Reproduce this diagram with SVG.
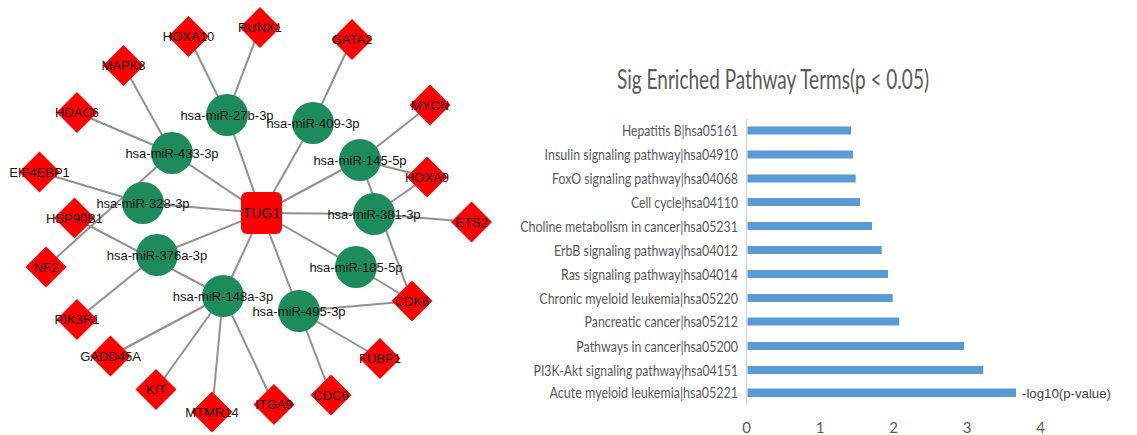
<svg xmlns="http://www.w3.org/2000/svg" xmlns:xlink="http://www.w3.org/1999/xlink" width="1137" height="435" viewBox="0 0 1137 435">
<style>
.e{stroke:#909090;stroke-width:2;fill:none}
.mi{fill:#1d8c5d}
.tg{fill:#ff0000}
.nl{font-family:"Liberation Sans",Arial,sans-serif;font-size:13px;fill:#141414;text-anchor:middle}
.cat{font-family:Lato,"Open Sans",sans-serif;font-size:16px;fill:#595959}
.tick{font-family:Lato,"Open Sans",sans-serif;font-size:15px;fill:#595959;text-anchor:middle}
.bar{fill:#5b9bd5}
</style>
<defs>
<polygon id="dia" points="0,-20.5 20.5,0 0,20.5 -20.5,0"/>
</defs>
<rect width="1137" height="435" fill="#ffffff"/>
<g id="connectors">
<line class="e" x1="261.5" y1="213" x2="227" y2="115"/>
<line class="e" x1="261.5" y1="213" x2="313" y2="123"/>
<line class="e" x1="261.5" y1="213" x2="172" y2="153"/>
<line class="e" x1="261.5" y1="213" x2="360" y2="160"/>
<line class="e" x1="261.5" y1="213" x2="143" y2="203"/>
<line class="e" x1="261.5" y1="213" x2="374" y2="214"/>
<line class="e" x1="261.5" y1="213" x2="157" y2="255"/>
<line class="e" x1="261.5" y1="213" x2="356" y2="267"/>
<line class="e" x1="261.5" y1="213" x2="223" y2="296"/>
<line class="e" x1="261.5" y1="213" x2="299" y2="311"/>
<line class="e" x1="227" y1="115" x2="188.5" y2="36.5"/>
<line class="e" x1="227" y1="115" x2="260" y2="27.5"/>
<line class="e" x1="313" y1="123" x2="352" y2="39.5"/>
<line class="e" x1="172" y1="153" x2="123.5" y2="65.5"/>
<line class="e" x1="172" y1="153" x2="77" y2="112.5"/>
<line class="e" x1="172" y1="153" x2="46" y2="267"/>
<line class="e" x1="143" y1="203" x2="39.5" y2="172"/>
<line class="e" x1="74.5" y1="218" x2="223" y2="296"/>
<line class="e" x1="157" y1="255" x2="77" y2="319.5"/>
<line class="e" x1="223" y1="296" x2="110.5" y2="356"/>
<line class="e" x1="223" y1="296" x2="156" y2="389.5"/>
<line class="e" x1="223" y1="296" x2="212" y2="412"/>
<line class="e" x1="223" y1="296" x2="274" y2="404.5"/>
<line class="e" x1="299" y1="311" x2="412" y2="301"/>
<line class="e" x1="299" y1="311" x2="380" y2="358.5"/>
<line class="e" x1="299" y1="311" x2="331" y2="395"/>
<line class="e" x1="356" y1="267" x2="412" y2="301"/>
<line class="e" x1="374" y1="214" x2="471.5" y2="222"/>
<line class="e" x1="374" y1="214" x2="427" y2="177"/>
<line class="e" x1="360" y1="160" x2="430" y2="105"/>
<line class="e" x1="360" y1="160" x2="427" y2="177"/>
<line class="e" x1="360" y1="160" x2="412" y2="301"/>
</g>
<g id="n-HOXA10"><use href="#dia" class="tg" x="188.5" y="36.5"/><text class="nl" x="188.5" y="41">HOXA10</text></g>
<g id="n-RUNX1"><use href="#dia" class="tg" x="260" y="27.5"/><text class="nl" x="260" y="32">RUNX1</text></g>
<g id="n-GATA2"><use href="#dia" class="tg" x="352" y="39.5"/><text class="nl" x="352" y="44">GATA2</text></g>
<g id="n-MYCN"><use href="#dia" class="tg" x="430" y="105"/><text class="nl" x="430" y="109.5">MYCN</text></g>
<g id="n-HOXA9"><use href="#dia" class="tg" x="427" y="177"/><text class="nl" x="427" y="181.5">HOXA9</text></g>
<g id="n-ETS2"><use href="#dia" class="tg" x="471.5" y="222"/><text class="nl" x="471.5" y="226.5">ETS2</text></g>
<g id="n-CDK6"><use href="#dia" class="tg" x="412" y="301"/><text class="nl" x="412" y="305.5">CDK6</text></g>
<g id="n-FUBP1"><use href="#dia" class="tg" x="380" y="358.5"/><text class="nl" x="380" y="363">FUBP1</text></g>
<g id="n-CDC6"><use href="#dia" class="tg" x="331" y="395"/><text class="nl" x="331" y="399.5">CDC6</text></g>
<g id="n-ITGA9"><use href="#dia" class="tg" x="274" y="404.5"/><text class="nl" x="274" y="409">ITGA9</text></g>
<g id="n-MTMR14"><use href="#dia" class="tg" x="212" y="412"/><text class="nl" x="212" y="416.5">MTMR14</text></g>
<g id="n-KIT"><use href="#dia" class="tg" x="156" y="389.5"/><text class="nl" x="156" y="394">KIT</text></g>
<g id="n-GADD45A"><use href="#dia" class="tg" x="110.5" y="356"/><text class="nl" x="110.5" y="360.5">GADD45A</text></g>
<g id="n-PIK3R1"><use href="#dia" class="tg" x="77" y="319.5"/><text class="nl" x="77" y="324">PIK3R1</text></g>
<g id="n-NF2"><use href="#dia" class="tg" x="46" y="267"/><text class="nl" x="46" y="271.5">NF2</text></g>
<g id="n-HSP90B1"><use href="#dia" class="tg" x="74.5" y="218"/><text class="nl" x="74.5" y="222.5">HSP90B1</text></g>
<g id="n-EIF4EBP1"><use href="#dia" class="tg" x="39.5" y="172"/><text class="nl" x="39.5" y="176.5">EIF4EBP1</text></g>
<g id="n-HDAC6"><use href="#dia" class="tg" x="77" y="112.5"/><text class="nl" x="77" y="117">HDAC6</text></g>
<g id="n-MAPK8"><use href="#dia" class="tg" x="123.5" y="65.5"/><text class="nl" x="123.5" y="70">MAPK8</text></g>
<g id="n-miR-27b-3p"><circle class="mi" cx="227" cy="115" r="21"/><text class="nl" x="227" y="119.5">hsa-miR-27b-3p</text></g>
<g id="n-miR-409-3p"><circle class="mi" cx="313" cy="123" r="21"/><text class="nl" x="313" y="127.5">hsa-miR-409-3p</text></g>
<g id="n-miR-433-3p"><circle class="mi" cx="172" cy="153" r="21"/><text class="nl" x="172" y="157.5">hsa-miR-433-3p</text></g>
<g id="n-miR-145-5p"><circle class="mi" cx="360" cy="160" r="21"/><text class="nl" x="360" y="164.5">hsa-miR-145-5p</text></g>
<g id="n-miR-328-3p"><circle class="mi" cx="143" cy="203" r="21"/><text class="nl" x="143" y="207.5">hsa-miR-328-3p</text></g>
<g id="n-miR-381-3p"><circle class="mi" cx="374" cy="214" r="21"/><text class="nl" x="374" y="218.5">hsa-miR-381-3p</text></g>
<g id="n-miR-376a-3p"><circle class="mi" cx="157" cy="255" r="21"/><text class="nl" x="157" y="259.5">hsa-miR-376a-3p</text></g>
<g id="n-miR-185-5p"><circle class="mi" cx="356" cy="267" r="21"/><text class="nl" x="356" y="271.5">hsa-miR-185-5p</text></g>
<g id="n-miR-148a-3p"><circle class="mi" cx="223" cy="296" r="21"/><text class="nl" x="223" y="300.5">hsa-miR-148a-3p</text></g>
<g id="n-miR-495-3p"><circle class="mi" cx="299" cy="311" r="21"/><text class="nl" x="299" y="315.5">hsa-miR-495-3p</text></g>
<g id="n-TUG1"><rect class="tg" x="241" y="192" width="41" height="42" rx="6"/><text class="nl" x="261.5" y="218" style="font-size:14px">TUG1</text></g>
<g id="chart">
<text x="617" y="88.5" textLength="312" lengthAdjust="spacingAndGlyphs" style="font-family:Lato,'Open Sans',sans-serif;font-size:27px;fill:#595959">Sig Enriched Pathway Terms(p &lt; 0.05)</text>
<line x1="746.5" y1="119" x2="746.5" y2="404" stroke="#d9d9d9" stroke-width="1.5"/>
<rect class="bar" x="747.5" y="126.5" width="103.5" height="8"/>
<rect class="bar" x="747.5" y="150.5" width="105.5" height="8"/>
<rect class="bar" x="747.5" y="174.5" width="108.2" height="8"/>
<rect class="bar" x="747.5" y="198" width="112.5" height="8"/>
<rect class="bar" x="747.5" y="222" width="124.5" height="8"/>
<rect class="bar" x="747.5" y="246" width="134.2" height="8"/>
<rect class="bar" x="747.5" y="270" width="140.5" height="8"/>
<rect class="bar" x="747.5" y="294" width="145.2" height="8"/>
<rect class="bar" x="747.5" y="317.5" width="151.8" height="8"/>
<rect class="bar" x="747.5" y="342" width="216.5" height="8"/>
<rect class="bar" x="747.5" y="366" width="235.8" height="8"/>
<rect class="bar" x="747.5" y="388.5" width="268.5" height="8.5"/>
<text class="cat" x="622" y="136" textLength="116" lengthAdjust="spacingAndGlyphs">Hepatitis B|hsa05161</text>
<text class="cat" x="544.6" y="160" textLength="193.4" lengthAdjust="spacingAndGlyphs">Insulin signaling pathway|hsa04910</text>
<text class="cat" x="552" y="184" textLength="186" lengthAdjust="spacingAndGlyphs">FoxO signaling pathway|hsa04068</text>
<text class="cat" x="631" y="207.5" textLength="107" lengthAdjust="spacingAndGlyphs">Cell cycle|hsa04110</text>
<text class="cat" x="520.2" y="231.5" textLength="217.8" lengthAdjust="spacingAndGlyphs">Choline metabolism in cancer|hsa05231</text>
<text class="cat" x="554" y="255.5" textLength="184" lengthAdjust="spacingAndGlyphs">ErbB signaling pathway|hsa04012</text>
<text class="cat" x="561" y="279.5" textLength="177" lengthAdjust="spacingAndGlyphs">Ras signaling pathway|hsa04014</text>
<text class="cat" x="539.3" y="303.5" textLength="198.7" lengthAdjust="spacingAndGlyphs">Chronic myeloid leukemia|hsa05220</text>
<text class="cat" x="584.5" y="327" textLength="153.5" lengthAdjust="spacingAndGlyphs">Pancreatic cancer|hsa05212</text>
<text class="cat" x="576.3" y="351.5" textLength="161.7" lengthAdjust="spacingAndGlyphs">Pathways in cancer|hsa05200</text>
<text class="cat" x="533.6" y="375.5" textLength="204.4" lengthAdjust="spacingAndGlyphs">PI3K-Akt signaling pathway|hsa04151</text>
<text class="cat" x="549.5" y="398" textLength="188.5" lengthAdjust="spacingAndGlyphs">Acute myeloid leukemia|hsa05221</text>
<text x="1022" y="397.5" textLength="89" lengthAdjust="spacingAndGlyphs" style="font-family:'Liberation Sans',Arial,sans-serif;font-size:13.5px;fill:#404040">-log10(p-value)</text>
<text class="tick" x="746.5" y="433">0</text>
<text class="tick" x="820" y="433">1</text>
<text class="tick" x="893.5" y="433">2</text>
<text class="tick" x="967" y="433">3</text>
<text class="tick" x="1040.5" y="433">4</text>
</g>
</svg>
